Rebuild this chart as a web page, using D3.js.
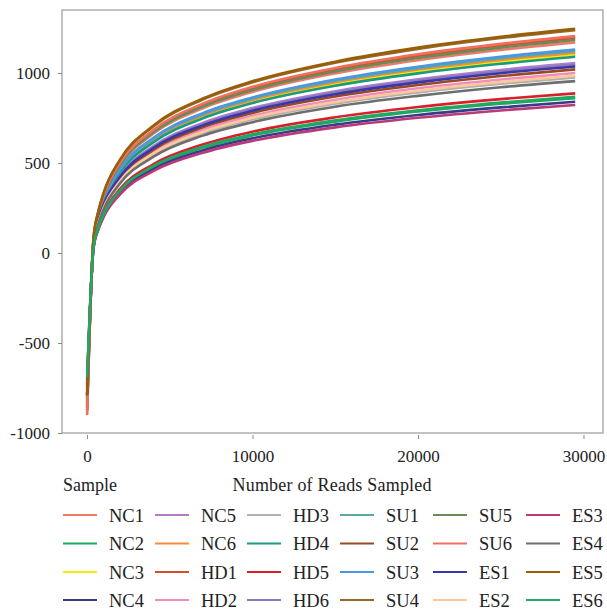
<!DOCTYPE html>
<html>
<head>
<meta charset="utf-8">
<script src="https://cdn.jsdelivr.net/npm/d3@7"></script>
<style>
  body { margin: 0; background: #fff; }
  svg text { font-family: "Liberation Serif", "Times New Roman", serif; fill: #222; }
</style>
</head>
<body>
<div id="chart"></div>
<script>
// reads sampled (x positions of the points)
const reads = [10, 400, 700, 1000, 2000, 4000, 7000, 10000, 15000, 20000, 25000, 29500];

// sample names, in legend order (column by column)
const samples = ["NC1", "NC2", "NC3", "NC4", "NC5", "NC6",
                 "HD1", "HD2", "HD3", "HD4", "HD5", "HD6",
                 "SU1", "SU2", "SU3", "SU4", "SU5", "SU6",
                 "ES1", "ES2", "ES3", "ES4", "ES5", "ES6"];

const colors = ["#f07a6a", "#1faa5a", "#f2f000", "#3a3a8c", "#b07cc8", "#f58a3c",
                "#d2502a", "#f08cbe", "#b0b0b0", "#1a9a80", "#d8202a", "#8a78c0",
                "#5aa8a8", "#9a4a20", "#4a98e0", "#946a28", "#6a8a58", "#f07060",
                "#3838a8", "#ffc898", "#b83a78", "#6e6e6e", "#9a5e08", "#20a864"];

// observed values per sample, one per entry of reads
const NC1 = [-880, 75, 217, 308, 485, 662, 804, 895, 998, 1071, 1128, 1170];
const NC2 = [-720, 35, 142, 211, 344, 477, 584, 653, 730, 786, 829, 860];
const NC3 = [-820, 67, 202, 287, 454, 622, 756, 842, 940, 1009, 1063, 1102];
const NC4 = [-740, 32, 137, 204, 334, 465, 570, 637, 713, 767, 809, 840];
const NC5 = [-800, 60, 189, 272, 432, 593, 723, 805, 899, 965, 1017, 1055];
const NC6 = [-830, 68, 204, 291, 459, 628, 764, 851, 949, 1019, 1073, 1113];
const HD1 = [-860, 78, 223, 316, 496, 677, 822, 915, 1020, 1094, 1153, 1195];
const HD2 = [-780, 53, 176, 255, 407, 561, 684, 762, 851, 915, 964, 1000];
const HD3 = [-770, 50, 170, 247, 396, 546, 666, 743, 830, 892, 940, 975];
const HD4 = [-810, 65, 198, 283, 448, 614, 748, 833, 929, 998, 1051, 1090];
const HD5 = [-730, 38, 148, 219, 356, 493, 603, 674, 754, 811, 855, 887];
const HD6 = [-790, 58, 186, 268, 428, 588, 716, 798, 891, 957, 1008, 1046];
const SU1 = [-820, 70, 207, 294, 463, 634, 771, 858, 957, 1027, 1082, 1122];
const SU2 = [-790, 56, 181, 261, 417, 573, 698, 778, 869, 933, 983, 1020];
const SU3 = [-840, 72, 210, 297, 468, 639, 777, 864, 964, 1035, 1090, 1130];
const SU4 = [-870, 84, 234, 330, 516, 703, 853, 948, 1057, 1134, 1194, 1238];
const SU5 = [-850, 76, 220, 312, 490, 669, 813, 905, 1009, 1083, 1141, 1183];
const SU6 = [-900, 80, 226, 320, 501, 683, 829, 923, 1028, 1104, 1162, 1205];
const ES1 = [-790, 57, 184, 266, 423, 582, 709, 790, 882, 948, 999, 1036];
const ES2 = [-760, 51, 172, 250, 400, 552, 673, 751, 838, 901, 950, 985];
const ES3 = [-710, 30, 133, 199, 326, 455, 557, 623, 698, 751, 792, 822];
const ES4 = [-760, 48, 166, 241, 387, 534, 652, 727, 813, 873, 921, 955];
const ES5 = [-790, 86, 237, 333, 519, 707, 858, 954, 1063, 1141, 1201, 1245];
const ES6 = [-690, 36, 144, 213, 347, 482, 590, 659, 737, 793, 836, 868];

const values = [NC1, NC2, NC3, NC4, NC5, NC6, HD1, HD2, HD3, HD4, HD5, HD6,
                SU1, SU2, SU3, SU4, SU5, SU6, ES1, ES2, ES3, ES4, ES5, ES6];

const xTicks = [0, 10000, 20000, 30000];
const yTicks = [-1000, -500, 0, 500, 1000];

const W = 607, H = 609;
const plot = { left: 62, right: 603, top: 10, bottom: 433 };

const svg = d3.select("#chart").append("svg")
    .attr("width", W)
    .attr("height", H);

const x = d3.scaleLinear().domain([-1510, 31180]).range([plot.left, plot.right]);
const y = d3.scaleLinear().domain([-1000, 1350]).range([plot.bottom, plot.top]);

// frame
svg.append("rect")
    .attr("x", plot.left)
    .attr("y", plot.top)
    .attr("width", plot.right - plot.left)
    .attr("height", plot.bottom - plot.top)
    .attr("fill", "none")
    .attr("stroke", "#9a9a9a")
    .attr("stroke-width", 1.2);

// axes (plain hyphen for negatives, like the original)
const fmt = d => String(d);
const xAxis = svg.append("g")
    .attr("transform", `translate(0,${plot.bottom + 2})`)
    .call(d3.axisBottom(x).tickValues(xTicks).tickFormat(fmt).tickSize(4).tickPadding(11));
const yAxis = svg.append("g")
    .attr("transform", `translate(${plot.left},0)`)
    .call(d3.axisLeft(y).tickValues(yTicks).tickFormat(fmt).tickSize(4).tickPadding(8));

[xAxis, yAxis].forEach(g => {
    g.select(".domain").remove();
    g.selectAll(".tick line").attr("stroke", "#8a8a8a");
    g.selectAll(".tick text").attr("font-size", 17).style("fill", "#222");
});

// curves
const line = d3.line()
    .x((d, i) => x(reads[i]))
    .y(d => y(d))
    .curve(d3.curveMonotoneX);

const curves = svg.append("g");
values.forEach((vals, i) => {
    curves.append("path")
        .datum(vals)
        .attr("fill", "none")
        .attr("stroke", colors[i])
        .attr("stroke-width", 2.6)
        .attr("d", line);
});

// titles
svg.append("text")
    .attr("x", 63)
    .attr("y", 491)
    .attr("font-size", 18)
    .text("Sample");
svg.append("text")
    .attr("x", 332)
    .attr("y", 491)
    .attr("text-anchor", "middle")
    .attr("font-size", 18)
    .attr("textLength", 199)
    .text("Number of Reads Sampled");

// legend
const colX = [63, 155, 247, 340, 433, 526];
const rowY = [515, 543.5, 572, 600];
const legend = svg.append("g").attr("class", "legend");
samples.forEach((name, i) => {
    const c = Math.floor(i / 4), r = i % 4;
    const item = legend.append("g")
        .attr("transform", `translate(${colX[c]},${rowY[r]})`);
    item.append("line")
        .attr("x1", 0).attr("x2", 34)
        .attr("y1", 0).attr("y2", 0)
        .attr("stroke", colors[i])
        .attr("stroke-width", 2);
    item.append("text")
        .attr("x", 46)
        .attr("y", 6.5)
        .attr("font-size", 18.5)
        .text(name);
});
</script>
</body>
</html>
